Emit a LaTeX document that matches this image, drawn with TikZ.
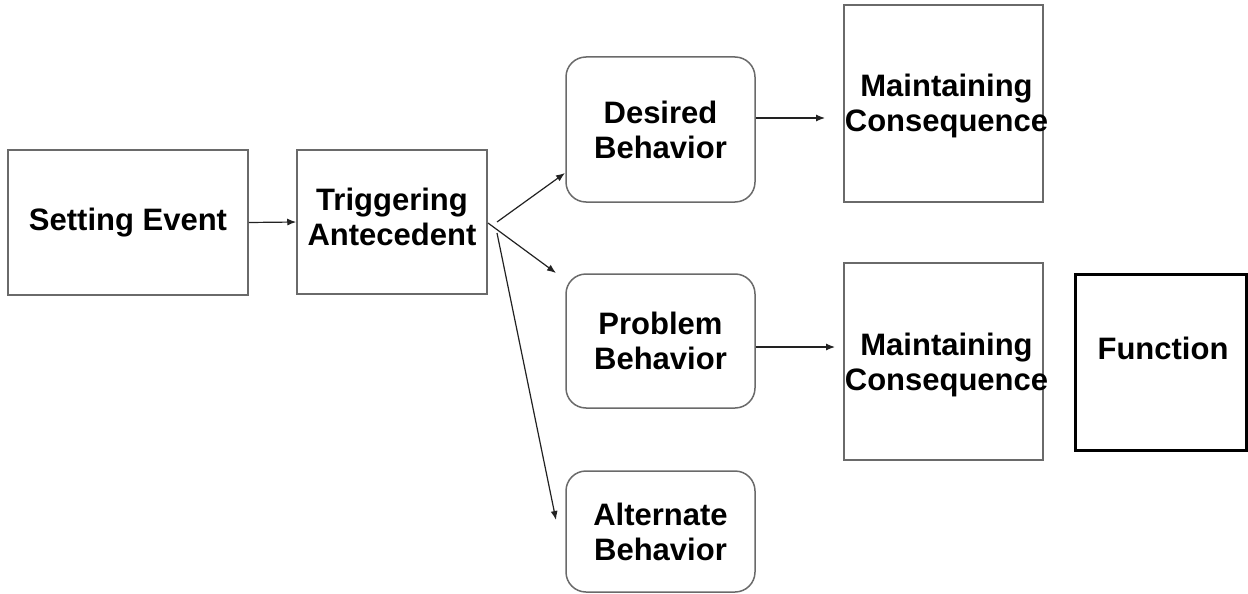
\documentclass[tikz,border=0pt]{standalone}
\usepackage{fontspec}
\setmainfont{Liberation Sans}
\usetikzlibrary{arrows.meta}
\definecolor{boxgray}{HTML}{6A6A6A}
\definecolor{arrgray}{HTML}{222222}
\newcommand\lbl{\fontsize{31}{35}\selectfont\bfseries}
\begin{document}
\begin{tikzpicture}[x=1pt,y=-1pt,
  box/.style={draw=boxgray, line width=1.5pt, fill=white, inner sep=0pt, align=center, font=\lbl},
  rbox/.style={box, rounded corners=20pt},
  fnbox/.style={draw=black, line width=3pt, fill=white, inner sep=0pt},
  txt/.style={inner sep=0pt, align=center, font=\lbl},
  arr/.style={draw=arrgray, line width=1.2pt, -{Latex[length=9pt,width=7pt]}}]
\useasboundingbox (0,0) rectangle (1248,594);
\fill[white] (0,0) rectangle (1248,594);

\node[box, minimum width=240pt, minimum height=145pt] (se) at (128,222.5) {Setting Event};
\node[box, minimum width=190pt, minimum height=144pt] (tr) at (392,222) {};
\node[txt] (trt) at (392,217) {Triggering\\Antecedent};

\node[rbox, minimum width=189pt, minimum height=145pt] (de) at (660.5,129.5) {Desired\\Behavior};
\node[rbox, minimum width=189pt, minimum height=134pt] (pr) at (660.5,341) {Problem\\Behavior};
\node[rbox, minimum width=189pt, minimum height=121pt] (al) at (660.5,531.5) {Alternate\\Behavior};

\node[box, minimum width=199pt, minimum height=197pt] (mc1) at (943.5,103.5) {};
\node[txt] (mc1t) at (946.5,105.5) {Maintaining\\Consequence};
\node[box, minimum width=199pt, minimum height=197pt] (mc2) at (943.5,361.5) {};
\node[txt] (mc2t) at (946.5,364.5) {Maintaining\\Consequence};

\node[fnbox, minimum width=171pt, minimum height=176pt] (fn) at (1160.5,362) {};
\node[txt] (fnt) at (1163,348) {Function};

\coordinate (t1) at (497,222);
\coordinate (t2) at (488,223);
\coordinate (t3) at (497,233);
\coordinate (e1) at (565,173);
\coordinate (e2) at (556,273);
\coordinate (e3) at (556,520);
\coordinate (e4) at (825,118);
\coordinate (e5) at (835,347);

\draw[arr] (se.east) -- (tr.west);
\draw[arr] (t1) -- (e1);
\draw[arr] (t2) -- (e2);
\draw[arr] (t3) -- (e3);
\draw[arr] ([yshift=11.5pt]de.east) -- (e4);
\draw[arr] ([yshift=-6pt]pr.east) -- (e5);
\end{tikzpicture}
\end{document}
